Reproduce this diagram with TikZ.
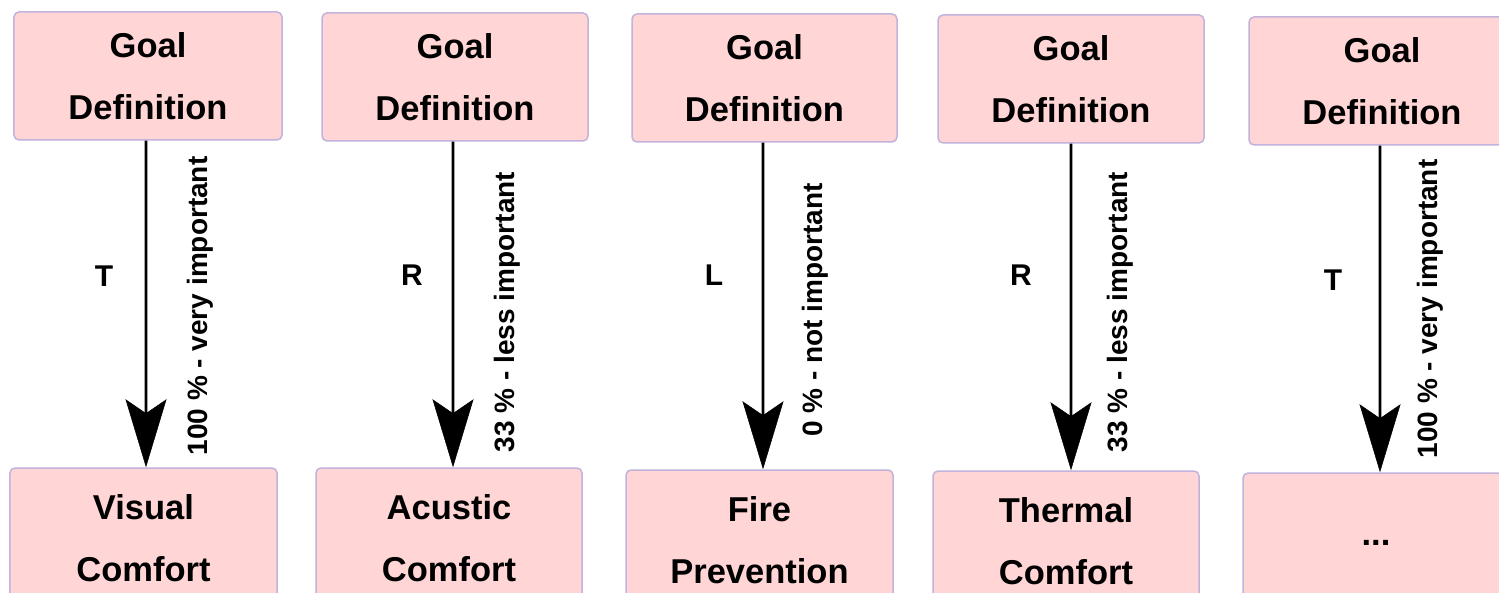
\documentclass[tikz,border=0pt]{standalone}
\usepackage{fontspec}
\setmainfont{Liberation Sans}
\usetikzlibrary{arrows.meta}
\definecolor{boxfill}{RGB}{255,213,213}
\definecolor{boxedge}{RGB}{195,178,220}
\tikzset{
  goalbox/.style={rectangle, rounded corners=5bp, draw=boxedge, line width=1.5bp,
    fill=boxfill, inner sep=0pt, align=center,
    font=\fontsize{34.5bp}{62bp}\selectfont\bfseries},
  arr/.style={line width=2.8bp, -{Stealth[length=68bp, width=41bp, inset=14bp, line width=0.5bp]}},
  letter/.style={font=\fontsize{30bp}{30bp}\selectfont\bfseries, inner sep=0pt},
  weight/.style={rotate=90, font=\fontsize{28bp}{28bp}\selectfont\bfseries, inner sep=0pt}
}
\begin{document}
\begin{tikzpicture}[x=1bp, y=-1bp]
\path[use as bounding box, clip] (0,0) rectangle (1499,593);
\fill[white] (0,0) rectangle (1499,593);

% top row: goal definitions
\node[goalbox, minimum width=268bp, minimum height=128bp] (g1) at (148,76) {Goal\\Definition};
\node[goalbox, minimum width=266bp, minimum height=128bp] (g2) at (455,77) {Goal\\Definition};
\node[goalbox, minimum width=265bp, minimum height=128bp] (g3) at (764.5,78) {Goal\\Definition};
\node[goalbox, minimum width=266bp, minimum height=128bp] (g4) at (1071,79) {Goal\\Definition};
\node[goalbox, minimum width=266bp, minimum height=128bp] (g5) at (1382,81) {Goal\\Definition};

% bottom row: criteria
\node[goalbox, minimum width=267bp, minimum height=140bp] (c1) at (143.5,538) {Visual\\Comfort};
\node[goalbox, minimum width=266bp, minimum height=140bp] (c2) at (449,538) {Acustic\\Comfort};
\node[goalbox, minimum width=267bp, minimum height=140bp] (c3) at (759.5,540) {Fire\\Prevention};
\node[goalbox, minimum width=266bp, minimum height=140bp] (c4) at (1066,541) {Thermal\\Comfort};
\node[goalbox, minimum width=266bp, minimum height=140bp] (c5) at (1376,543) {...};

% weighted links
\draw[arr] ([xshift=-2bp]g1.south) -- ([xshift=2.5bp]c1.north);
\draw[arr] ([xshift=-2bp]g2.south) -- ([xshift=4bp]c2.north);
\draw[arr] ([xshift=-1.5bp]g3.south) -- ([xshift=3.5bp]c3.north);
\draw[arr] (g4.south) -- ([xshift=5bp]c4.north);
\draw[arr] ([xshift=-2bp]g5.south) -- ([xshift=4bp]c5.north);

\node[letter] (t1) at (104,276) {T};
\node[letter] (t2) at (412,275) {R};
\node[letter] (t3) at (714,275) {L};
\node[letter] (t4) at (1021,275) {R};
\node[letter] (t5) at (1333,280) {T};

\node[weight] (w1) at (200,306) {100 \% - very important};
\node[weight] (w2) at (507,312) {33 \% - less important};
\node[weight] (w3) at (815,310) {0 \% - not important};
\node[weight] (w4) at (1120,312) {33 \% - less important};
\node[weight] (w5) at (1430,309) {100 \% - very important};
\end{tikzpicture}
\end{document}
